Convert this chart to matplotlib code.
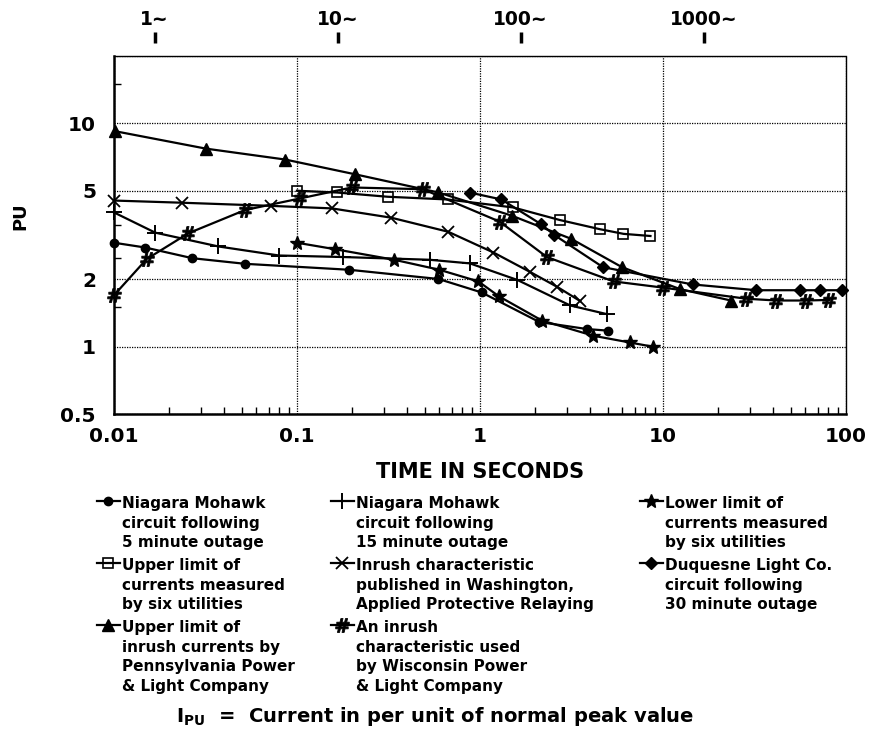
import matplotlib
matplotlib.use('Agg')
import matplotlib.pyplot as plt
from matplotlib.ticker import FixedLocator, NullLocator, LogLocator, NullFormatter

plt.rcParams['font.family'] = ['DejaVu Sans']
plt.rcParams['font.weight'] = 'bold'
plt.rcParams['mathtext.fontset'] = 'dejavusans'

# ---------------- data (time in seconds, current in per unit) ----------------
t_nm5 = [0.01, 0.0148, 0.0268, 0.052, 0.193, 0.593, 1.02, 2.11, 3.84, 5.02]
i_nm5 = [2.92, 2.78, 2.49, 2.35, 2.21, 2.01, 1.75, 1.29, 1.20, 1.18]

t_nm15 = [0.01, 0.0168, 0.0372, 0.0798, 0.179, 0.53, 0.881, 1.60, 3.11, 4.92]
i_nm15 = [3.99, 3.24, 2.81, 2.56, 2.52, 2.45, 2.36, 1.99, 1.53, 1.40]

t_low6 = [0.1, 0.162, 0.34, 0.60, 0.98, 1.27, 2.18, 4.16, 6.57, 8.82]
i_low6 = [2.92, 2.73, 2.45, 2.21, 1.96, 1.68, 1.31, 1.12, 1.045, 1.0]

t_up6 = [0.1, 0.165, 0.313, 0.666, 1.52, 2.73, 4.50, 6.08, 8.54]
i_up6 = [4.99, 4.90, 4.69, 4.56, 4.20, 3.69, 3.36, 3.20, 3.13]

t_wash = [0.01, 0.0235, 0.0719, 0.155, 0.327, 0.67, 1.185, 1.88, 2.65, 3.53]
i_wash = [4.51, 4.41, 4.27, 4.16, 3.78, 3.27, 2.64, 2.16, 1.85, 1.60]

t_duq = [0.887, 1.31, 2.15, 2.55, 4.70, 14.5, 32.4, 56.0, 71.8, 95.0]
i_duq = [4.89, 4.56, 3.54, 3.16, 2.27, 1.90, 1.79, 1.79, 1.79, 1.79]

t_ppl = [0.0101, 0.0318, 0.0864, 0.208, 0.593, 1.49, 3.15, 5.97, 12.4, 23.5]
i_ppl = [9.22, 7.70, 6.88, 5.91, 4.90, 3.86, 3.04, 2.27, 1.81, 1.61]

t_wis = [0.01, 0.0151, 0.0255, 0.052, 0.104, 0.199, 0.487, 1.28, 2.32, 5.37,
         9.94, 28.5, 41.6, 60.7, 81.2]
i_wis = [1.70, 2.47, 3.22, 4.09, 4.61, 5.16, 5.07, 3.63, 2.52, 1.96,
         1.84, 1.64, 1.61, 1.61, 1.62]

labels = [
    "Niagara Mohawk\ncircuit following\n5 minute outage",
    "Upper limit of\ncurrents measured\nby six utilities",
    "Upper limit of\ninrush currents by\nPennsylvania Power\n& Light Company",
    "Niagara Mohawk\ncircuit following\n15 minute outage",
    "Inrush characteristic\npublished in Washington,\nApplied Protective Relaying",
    "An inrush\ncharacteristic used\nby Wisconsin Power\n& Light Company",
    "Lower limit of\ncurrents measured\nby six utilities",
    "Duquesne Light Co.\ncircuit following\n30 minute outage",
]

x_ticks = [0.01, 0.1, 1, 10, 100]
x_ticklabels = ['0.01', '0.1', '1', '10', '100']
y_ticks = [0.5, 1, 2, 5, 10, 20]
y_ticklabels = ['0.5', '1', '2', '5', '10', '']
y_minor = [1.5, 2.5, 3.5, 15]

freq = 60
cycles = [1, 10, 100, 1000]
cycle_labels = ['1~', '10~', '100~', '1000~']

# ---------------- figure ----------------
W, H = 887, 732
fig = plt.figure(figsize=(W / 100, H / 100), dpi=100)
ax = fig.add_axes([114 / W, 1 - 414 / H, 732 / W, 358 / H])
ax.set_xscale('log')
ax.set_yscale('log')
ax.set_xlim(0.01, 100)
ax.set_ylim(0.5, 20)

styles = [
    (t_nm5, i_nm5, dict(marker='o', ms=6, mfc='black')),
    (t_up6, i_up6, dict(marker='s', ms=7.5, mfc='none', mew=1.2)),
    (t_ppl, i_ppl, dict(marker='^', ms=8, mfc='black')),
    (t_nm15, i_nm15, dict(marker='+', ms=11, mew=1.4)),
    (t_wash, i_wash, dict(marker='x', ms=9, mew=1.3)),
    (t_wis, i_wis, dict(marker=r'$\#$', ms=10, mew=0.6)),
    (t_low6, i_low6, dict(marker='*', ms=10, mfc='black')),
    (t_duq, i_duq, dict(marker='D', ms=6, mfc='black')),
]
handles = []
for (t, i, kw), lab in zip(styles, labels):
    ln, = ax.plot(t, i, color='black', lw=1.6, mec='black', clip_on=False,
                  label=lab, zorder=3, **kw)
    handles.append(ln)

# axes styling
ax.set_xticks(x_ticks, x_ticklabels)
ax.set_yticks(y_ticks, y_ticklabels)
ax.xaxis.set_minor_locator(LogLocator(base=10, subs=range(2, 10)))
ax.xaxis.set_minor_formatter(NullFormatter())
ax.yaxis.set_minor_locator(FixedLocator(y_minor))
ax.yaxis.set_minor_formatter(NullFormatter())
ax.tick_params(which='major', length=0, labelsize=14.5)
ax.tick_params(axis='x', which='major', pad=9)
ax.tick_params(axis='y', which='major', pad=13)
ax.tick_params(which='minor', direction='in', length=5, width=1.0)
ax.grid(True, which='major', color='black', ls=(0, (1, 1)), lw=0.9)
for s in ['left', 'bottom']:
    ax.spines[s].set_linewidth(1.8)
for s in ['top', 'right']:
    ax.spines[s].set_linestyle((0, (1, 1)))
    ax.spines[s].set_linewidth(1.0)

ax.set_xlabel('TIME IN SECONDS', fontsize=15, fontweight='bold', labelpad=12)
ax.set_ylabel('PU', fontsize=13, fontweight='bold')
ax.yaxis.set_label_coords(-0.115, 0.553)

# cycles axis (60 Hz)
sec = ax.secondary_xaxis('top', functions=(lambda s: s * freq, lambda c: c / freq))
sec.set_xticks(cycles, cycle_labels)
sec.xaxis.set_minor_locator(NullLocator())
sec.spines['top'].set_visible(False)
sec.spines['top'].set_position(('outward', 9.5))
sec.tick_params(axis='x', which='major', direction='out', length=8, width=2.5,
                pad=2, labelsize=13.5)

# legend in three columns
cols = [[0, 1, 2], [3, 4, 5], [6, 7]]
col_x = [97, 331, 640]
for idx, x0 in zip(cols, col_x):
    leg = fig.legend([handles[k] for k in idx], [labels[k] for k in idx],
                     loc='upper left', bbox_to_anchor=(x0 / W, 1 - 496 / H),
                     bbox_transform=fig.transFigure, frameon=False,
                     borderpad=0, borderaxespad=0, handlelength=1.5,
                     handletextpad=0.15, labelspacing=0.5,
                     prop={'size': 11, 'weight': 'bold'})
    for tx in leg.get_texts():
        tx.set_linespacing(1.39)
    for col in leg._legend_handle_box.get_children():
        for row in col.get_children():
            row.align = 'top'

fig.text(435 / W, 1 - 716 / H,
         r'$\mathbf{I}_{\mathbf{PU}}$  =  Current in per unit of normal peak value',
         ha='center', va='center', fontsize=14, fontweight='bold')

fig.savefig('out.png', dpi=100)
